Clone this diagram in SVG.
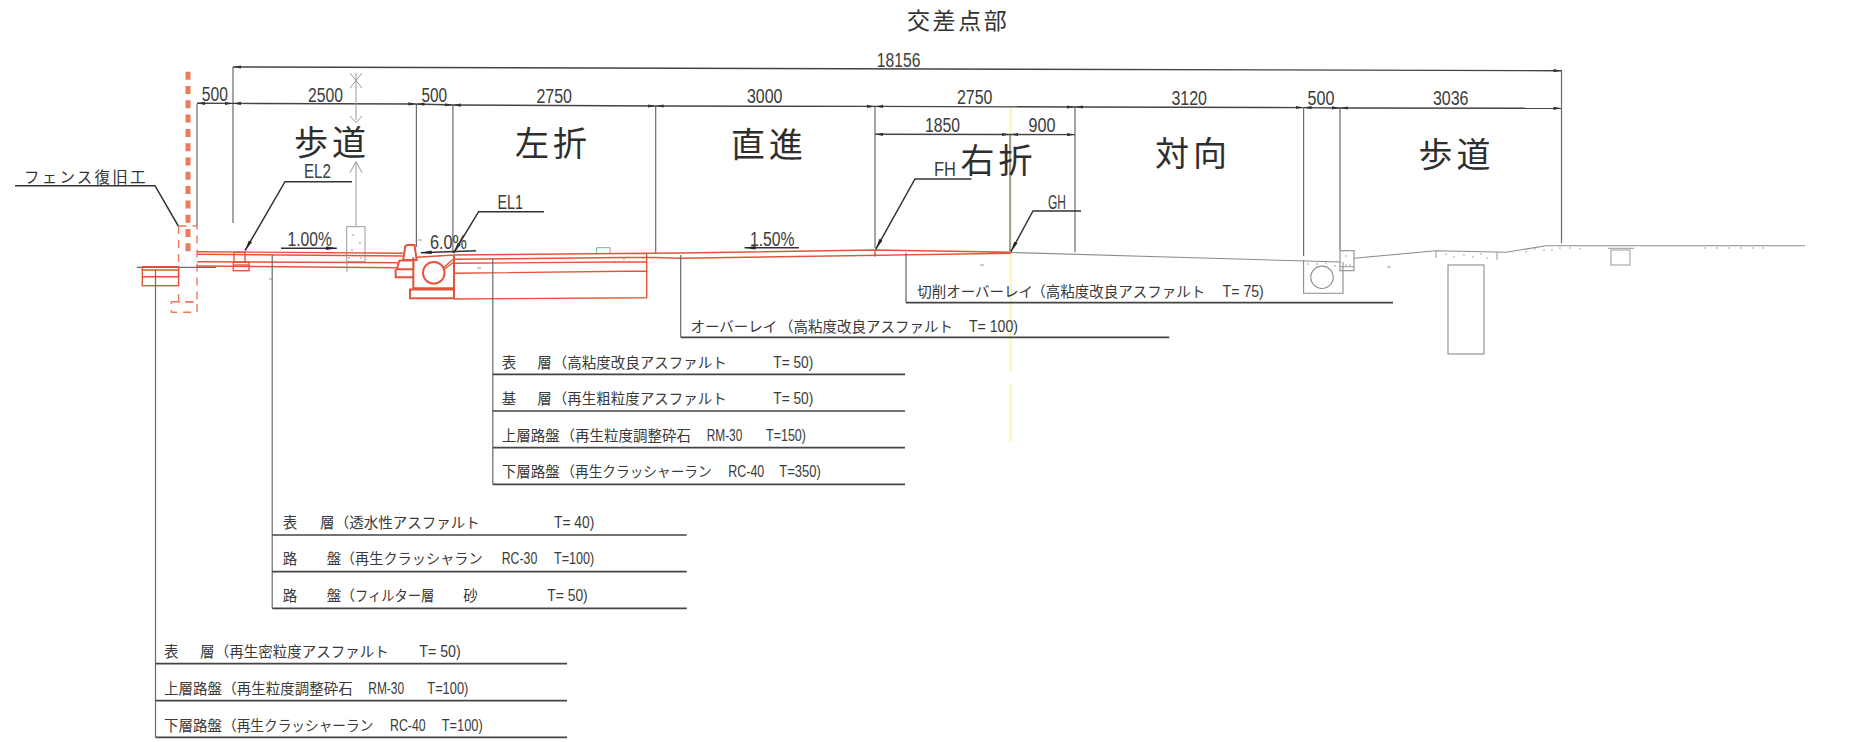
<svg xmlns="http://www.w3.org/2000/svg" width="1869" height="742" viewBox="0 0 1869 742">
<style>
text{font-family:"Liberation Sans","Noto Sans CJK JP",sans-serif;fill:#333}
.big{font-size:34px;letter-spacing:4px;fill:#2e2e2e}
.dim{font-size:20px;fill:#3c3c3c}
.row{font-size:14.5px;fill:#3a3a3a}
.lat{font-size:17px}
.ink{fill:none;stroke:#444;stroke-width:1.4}
.thin{fill:none;stroke:#6a6a6a;stroke-width:1.2}
.site{fill:none;stroke:#8c8c8c;stroke-width:1.1}
.lead{fill:none;stroke:#333;stroke-width:1.5}
.under{fill:none;stroke:#444;stroke-width:1.7}
.grey{fill:none;stroke:#9a9a9a;stroke-width:1}
.red{fill:none;stroke:#e2553a;stroke-width:1.4}
.redb{fill:none;stroke:#e2553a;stroke-width:2}
.dash{fill:none;stroke:#ee7a5c;stroke-width:1.4;stroke-dasharray:8 6}
.dot{fill:#888}
</style>
<defs>
<marker id="a" markerUnits="userSpaceOnUse" markerWidth="10" markerHeight="6" refX="8" refY="3" orient="auto"><path d="M0 1.4L8 3L0 4.6Z" fill="#333"/></marker>
<marker id="b" markerUnits="userSpaceOnUse" markerWidth="10" markerHeight="6" refX="0" refY="3" orient="auto"><path d="M8 1.4L0 3L8 4.6Z" fill="#333"/></marker>
<marker id="c" markerUnits="userSpaceOnUse" markerWidth="14" markerHeight="8" refX="11" refY="4" orient="auto"><path d="M0 2.2L11 4L0 5.8Z" fill="#222"/></marker>
</defs>

<g id="yellow-line"><path d="M1010.7 107V373M1010.7 385V442" fill="none" stroke="#fdf8b4" stroke-width="2.6"/></g>

<g id="title"><text x="907" y="29" font-size="23" letter-spacing="2.6">交差点部</text></g>

<g id="dimension-lines">
<path class="thin" d="M233 67V223M197 104V226M416.4 104V247M452.9 105V253M655.7 106V253M875 106V248M1075 107V252M1010 134V251M1303.6 108V256M1340 108V250M1561.5 70V243"/>
<line class="ink" x1="233" y1="67" x2="1561.5" y2="70.7" marker-start="url(#b)" marker-end="url(#a)"/>
<line class="ink" x1="197" y1="103.3" x2="233" y2="103.4" marker-start="url(#b)" marker-end="url(#a)"/>
<line class="ink" x1="233" y1="103.4" x2="416.4" y2="104" marker-start="url(#b)" marker-end="url(#a)"/>
<line class="ink" x1="416.4" y1="104" x2="452.9" y2="105" marker-start="url(#b)" marker-end="url(#a)"/>
<line class="ink" x1="452.9" y1="105" x2="655.7" y2="106" marker-start="url(#b)" marker-end="url(#a)"/>
<line class="ink" x1="655.7" y1="106" x2="875" y2="106.4" marker-start="url(#b)" marker-end="url(#a)"/>
<line class="ink" x1="875" y1="106.4" x2="1075" y2="107" marker-start="url(#b)" marker-end="url(#a)"/>
<line class="ink" x1="1075" y1="107" x2="1303.6" y2="107.6" marker-start="url(#b)" marker-end="url(#a)"/>
<line class="ink" x1="1303.6" y1="107.6" x2="1340" y2="108" marker-start="url(#b)" marker-end="url(#a)"/>
<line class="ink" x1="1340" y1="108" x2="1561.5" y2="108.3" marker-start="url(#b)" marker-end="url(#a)"/>
<line class="ink" x1="875" y1="134.3" x2="1010" y2="134.5" marker-start="url(#b)" marker-end="url(#a)"/>
<line class="ink" x1="1010" y1="134.5" x2="1075" y2="134.6" marker-start="url(#b)" marker-end="url(#a)"/>
<path class="grey" d="M356 73V120M356 162V226M350 73L362 88M362 73L350 88M350 116L356 122.7L362 116M350 172.7L356 161.7L362 172.7"/>
</g>

<g id="dimension-texts">
<text class="dim" x="876.8" y="66.7" textLength="43.6" lengthAdjust="spacingAndGlyphs">18156</text>
<text class="dim" x="201.8" y="101" textLength="26.1" lengthAdjust="spacingAndGlyphs">500</text>
<text class="dim" x="307.9" y="101.7" textLength="35" lengthAdjust="spacingAndGlyphs">2500</text>
<text class="dim" x="421.4" y="102.3" textLength="25.6" lengthAdjust="spacingAndGlyphs">500</text>
<text class="dim" x="536.4" y="103.3" textLength="35.6" lengthAdjust="spacingAndGlyphs">2750</text>
<text class="dim" x="747" y="103.3" textLength="35.5" lengthAdjust="spacingAndGlyphs">3000</text>
<text class="dim" x="957" y="104" textLength="35.5" lengthAdjust="spacingAndGlyphs">2750</text>
<text class="dim" x="925" y="131.7" textLength="35" lengthAdjust="spacingAndGlyphs">1850</text>
<text class="dim" x="1028.6" y="131.7" textLength="27" lengthAdjust="spacingAndGlyphs">900</text>
<text class="dim" x="1171.4" y="105" textLength="35.6" lengthAdjust="spacingAndGlyphs">3120</text>
<text class="dim" x="1307.5" y="105" textLength="26.9" lengthAdjust="spacingAndGlyphs">500</text>
<text class="dim" x="1433" y="105" textLength="35.5" lengthAdjust="spacingAndGlyphs">3036</text>
</g>

<g id="lane-labels">
<text class="big" x="294" y="155">歩道</text>
<text class="big" x="515" y="156">左折</text>
<text class="big" x="731" y="157">直進</text>
<text class="big" x="960.5" y="172.5">右折</text>
<text class="big" x="1155" y="166">対向</text>
<text class="big" x="1418.6" y="167">歩道</text>
</g>

<g id="fence">
<line x1="188" y1="71.7" x2="188" y2="257" stroke="#ee7a5c" stroke-width="5" stroke-dasharray="8 6.3"/>
<path class="dash" d="M178.6 226H197V302H178.6M178.6 226V285M178.6 294V302"/>
<rect class="dash" x="171.4" y="301.7" width="25.6" height="10.6"/>
</g>

<g id="road-existing">
<path class="thin" d="M136.7 267.3H216"/>
<path class="site" d="M1011 252.5L1341 262M1354 258.3L1436 250.7L1506 252.3L1546 245.7L1805 245.7"/>
<path class="grey" d="M1436 251V258M1497 252V260"/>
<rect class="site" x="1340" y="250.7" width="14" height="20"/>
<path class="grey" d="M1340 266.7H1354"/>
<path class="site" d="M1303.6 260V293.3H1343V262"/>
<circle class="site" cx="1322" cy="277.3" r="11.2"/>
<rect class="site" x="1448" y="265" width="36" height="89"/>
<rect class="grey" x="1611" y="250" width="19" height="15"/>
<path class="grey" d="M1608 248.3H1634"/>
<rect class="grey" x="346.7" y="226.7" width="18.3" height="35"/>
<path class="grey" d="M347 262V272M596.7 253V247.7H610V253"/>
<path class="grey" d="M980 265H984M1387 267H1391M269 279H273M477 268H481M418 240H422"/>
<g class="dot">
<circle cx="353" cy="235" r=".8"/><circle cx="360" cy="243" r=".8"/><circle cx="352" cy="250" r=".8"/><circle cx="349" cy="258" r=".8"/><circle cx="361" cy="258" r=".8"/>
<circle cx="1308" cy="264" r=".7"/><circle cx="1317" cy="264" r=".7"/><circle cx="1326" cy="263" r=".7"/><circle cx="1335" cy="266" r=".7"/><circle cx="1346" cy="256" r=".7"/><circle cx="1346" cy="265" r=".7"/><circle cx="1350" cy="265" r=".7"/>
<circle cx="1446" cy="254" r=".7"/><circle cx="1454" cy="257" r=".7"/><circle cx="1464" cy="255" r=".7"/><circle cx="1473" cy="257" r=".7"/><circle cx="1481" cy="254" r=".7"/><circle cx="1487" cy="258" r=".7"/>
<circle cx="1526" cy="252" r=".7"/><circle cx="1535" cy="249" r=".7"/><circle cx="1544" cy="250" r=".7"/><circle cx="1552" cy="250" r=".7"/><circle cx="1560" cy="248" r=".7"/><circle cx="1570" cy="248" r=".7"/><circle cx="1580" cy="249" r=".7"/>
<circle cx="1705" cy="248" r=".7"/><circle cx="1717" cy="248" r=".7"/><circle cx="1729" cy="248" r=".7"/><circle cx="1741" cy="248" r=".7"/><circle cx="1753" cy="248" r=".7"/><circle cx="1763" cy="248" r=".7"/>
<circle cx="615" cy="262" r=".8"/><circle cx="624" cy="259" r=".8"/><circle cx="643" cy="258" r=".8"/>
</g>
</g>

<g id="road-new">
<path class="red" d="M197.3 251.7L403 253.3M197.3 254.3L403 256M197.3 261.7L398 262.7M197.3 266L396.7 267.7"/>
<rect class="red" x="142.3" y="266.7" width="36.3" height="19"/>
<path class="red" d="M142.3 270H178.6M142.3 276.7H178.6"/>
<rect class="red" x="234" y="252.3" width="11" height="10" fill="#fff"/>
<rect class="red" x="233.3" y="262.3" width="15.7" height="8.4"/>
<path class="red" d="M233.3 265H249"/>
<path class="redb" d="M403.3 260L405 247.5Q405.5 245 408 245H414.5L416.7 260ZM399.3 260.5H413.5V269.3M399.3 260.5L397 269.3H413.5M395.7 269.3V277.3H413.3M413.3 257.3V289H454V255"/>
<circle class="redb" cx="433.8" cy="272.8" r="10.8"/>
<rect class="redb" x="410" y="289.5" width="44" height="8.8"/>
<path class="redb" d="M413.3 288.3H454" stroke-width="3"/>
<path class="red" d="M416.7 257.3L454 255M443 268L454 258.5M443 270L454 262"/>
<path class="red" d="M454 255L646.7 253.3L680 253L875 250L1010.7 252.3M454 259.3L646.7 257.3L680 258.3L1010.7 253.3M454 263.3L646.7 261.7M454 273.3L646.7 271M454 299L646.7 297.7V253.3M875 250V257"/>
</g>

<g id="leaders">
<path class="thin" d="M155.5 270V737.3M272.2 255V608.3M492.8 259V484.3M680.7 255V337.3M906 252.7V302.7"/>
<path class="under" d="M155.5 663.7H567M155.5 700.7H567M155.5 737.3H567M272.2 535H686.7M272.2 571.7H686.7M272.2 608.3H686.7M492.8 374.3H905M492.8 411H905M492.8 447.7H905M492.8 484.3H905M680.7 337.3H1169.3M906 302.7H1393"/>
<path class="lead" d="M15 185.7H155L178.3 226"/>
<path class="lead" d="M352 181.7H285L245 250.7" marker-end="url(#c)"/>
<path class="lead" d="M544 211.7H478.6L453.6 253" marker-end="url(#c)"/>
<path class="lead" d="M971.4 179H915L875.7 249.3" marker-end="url(#c)"/>
<path class="lead" d="M1081 211H1033L1010.7 252" marker-end="url(#c)"/>
<path class="lead" d="M281 248.3H336.8" marker-end="url(#c)"/>
<path class="lead" d="M476 250.7L420.7 252.7" marker-end="url(#c)"/>
<path class="lead" d="M799 247.7H744.6" marker-end="url(#c)"/>
</g>

<g id="callouts">
<text x="24" y="183" font-size="15.5" letter-spacing="2.2">フェンス復旧工</text>
<text class="dim" x="304" y="178" textLength="27" lengthAdjust="spacingAndGlyphs">EL2</text>
<text class="dim" x="497.5" y="209" textLength="25.5" lengthAdjust="spacingAndGlyphs">EL1</text>
<text class="dim" x="934" y="176" textLength="22" lengthAdjust="spacingAndGlyphs">FH</text>
<text class="dim" x="1048" y="209" textLength="18" lengthAdjust="spacingAndGlyphs">GH</text>
<text class="dim" x="287.5" y="245.7" textLength="44.5" lengthAdjust="spacingAndGlyphs">1.00%</text>
<text class="dim" x="430" y="249" textLength="37" lengthAdjust="spacingAndGlyphs">6.0%</text>
<text class="dim" x="750" y="246" textLength="44.6" lengthAdjust="spacingAndGlyphs">1.50%</text>
</g>

<g id="layer-labels">
<text class="row" y="296.7"><tspan x="917.2">切削オーバーレイ</tspan><tspan x="1031.2">（高粘度改良アスファルト</tspan><tspan class="lat" x="1222.6" textLength="41.2" lengthAdjust="spacingAndGlyphs">T= 75)</tspan></text>
<text class="row" y="331.7"><tspan x="690.4">オーバーレイ</tspan><tspan x="779">（高粘度改良アスファルト</tspan><tspan class="lat" x="969" textLength="49" lengthAdjust="spacingAndGlyphs">T= 100)</tspan></text>

<text class="row" y="368.3"><tspan x="501.7">表</tspan><tspan x="537.3">層</tspan><tspan x="552.8">（高粘度改良アスファルト</tspan><tspan class="lat" x="773.3" textLength="40" lengthAdjust="spacingAndGlyphs">T= 50)</tspan></text>
<text class="row" y="404"><tspan x="501.7">基</tspan><tspan x="537.3">層</tspan><tspan x="552.8">（再生粗粒度アスファルト</tspan><tspan class="lat" x="773.3" textLength="40" lengthAdjust="spacingAndGlyphs">T= 50)</tspan></text>
<text class="row" y="440.7"><tspan x="501.7">上層路盤</tspan><tspan x="560.5">（再生粒度調整砕石</tspan><tspan class="lat" x="706.7" textLength="35.6" lengthAdjust="spacingAndGlyphs">RM-30</tspan><tspan class="lat" x="766" textLength="40" lengthAdjust="spacingAndGlyphs">T=150)</tspan></text>
<text class="row" y="477.3"><tspan x="501.7">下層路盤</tspan><tspan x="560.5">（</tspan><tspan x="575" textLength="136.7" lengthAdjust="spacingAndGlyphs">再生クラッシャーラン</tspan><tspan class="lat" x="728.3" textLength="36" lengthAdjust="spacingAndGlyphs">RC-40</tspan><tspan class="lat" x="779.3" textLength="41.4" lengthAdjust="spacingAndGlyphs">T=350)</tspan></text>

<text class="row" y="528.3"><tspan x="282.7">表</tspan><tspan x="320">層</tspan><tspan x="334.8">（透水性アスファルト</tspan><tspan class="lat" x="554" textLength="40.3" lengthAdjust="spacingAndGlyphs">T= 40)</tspan></text>
<text class="row" y="564.3"><tspan x="282.7">路</tspan><tspan x="326.7">盤</tspan><tspan x="340.5">（</tspan><tspan x="355" textLength="127.7" lengthAdjust="spacingAndGlyphs">再生クラッシャラン</tspan><tspan class="lat" x="501.7" textLength="35.6" lengthAdjust="spacingAndGlyphs">RC-30</tspan><tspan class="lat" x="554" textLength="40.3" lengthAdjust="spacingAndGlyphs">T=100)</tspan></text>
<text class="row" y="600.7"><tspan x="282.7">路</tspan><tspan x="326.7">盤</tspan><tspan x="340.5">（</tspan><tspan x="355" textLength="79.3" lengthAdjust="spacingAndGlyphs">フィルター層</tspan><tspan x="463.3">砂</tspan><tspan class="lat" x="547.3" textLength="40.4" lengthAdjust="spacingAndGlyphs">T= 50)</tspan></text>

<text class="row" y="656.7"><tspan x="164">表</tspan><tspan x="200">層</tspan><tspan x="214.8">（再生密粒度アスファルト</tspan><tspan class="lat" x="419.3" textLength="41.4" lengthAdjust="spacingAndGlyphs">T= 50)</tspan></text>
<text class="row" y="694"><tspan x="164">上層路盤</tspan><tspan x="222.2">（再生粒度調整砕石</tspan><tspan class="lat" x="368.3" textLength="35.7" lengthAdjust="spacingAndGlyphs">RM-30</tspan><tspan class="lat" x="427.3" textLength="41" lengthAdjust="spacingAndGlyphs">T=100)</tspan></text>
<text class="row" y="731"><tspan x="164">下層路盤</tspan><tspan x="222.2">（</tspan><tspan x="236.7" textLength="136.6" lengthAdjust="spacingAndGlyphs">再生クラッシャーラン</tspan><tspan class="lat" x="390" textLength="35.7" lengthAdjust="spacingAndGlyphs">RC-40</tspan><tspan class="lat" x="441.7" textLength="41" lengthAdjust="spacingAndGlyphs">T=100)</tspan></text>
</g>
</svg>
